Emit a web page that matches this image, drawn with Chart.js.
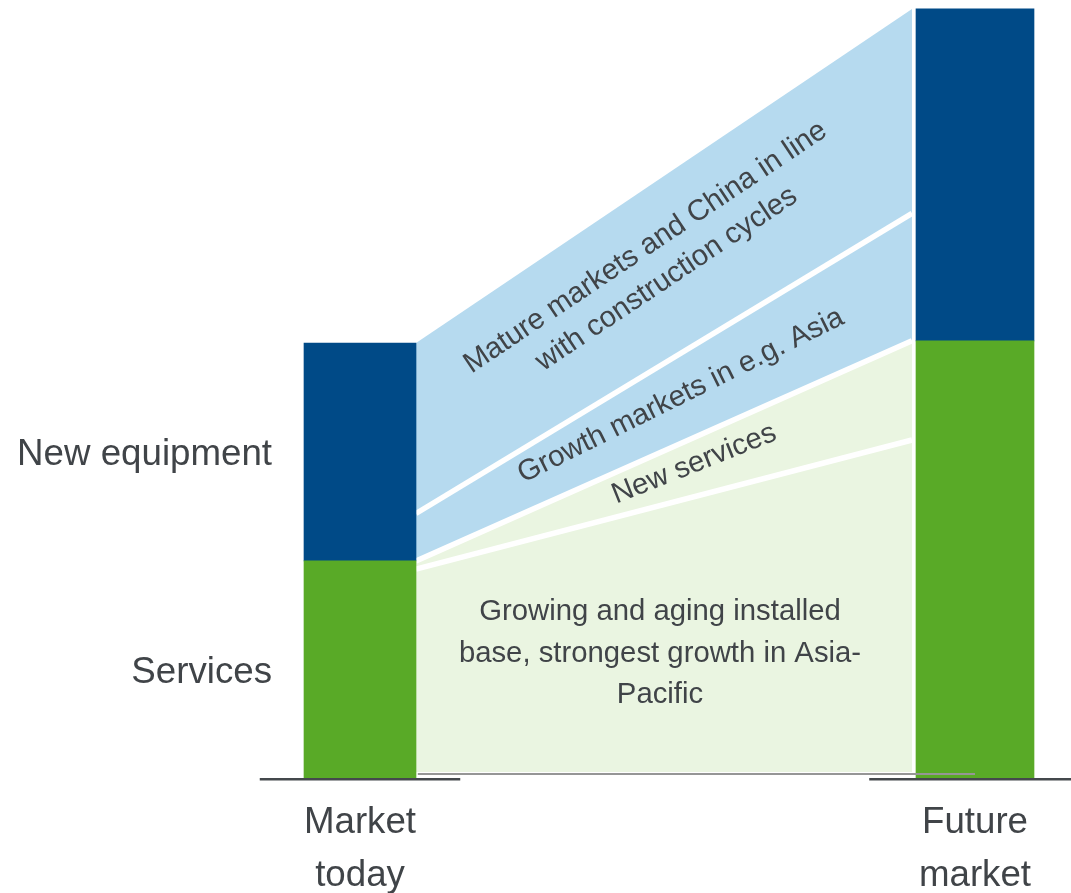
<!DOCTYPE html>
<html>
<head>
<meta charset="utf-8">
<script src="https://cdn.jsdelivr.net/npm/chart.js@4/dist/chart.umd.min.js"></script>
<style>
  html, body { margin: 0; padding: 0; background: #fff; }
  canvas { display: block; }
</style>
</head>
<body>
<canvas id="marketChart" width="1071" height="893"></canvas>
<script>
  // market split, today vs future
  const categories = [['Market', 'today'], ['Future', 'market']];
  const segments = ['Services', 'New equipment'];
  const servicesValues = [49.9, 100.5];
  const newEquipmentValues = [50.1, 76.3];

  // growth flows between the two bars (cumulative tops, bottom to top)
  const flowNames = ['Installed base', 'New services', 'Growth markets', 'Mature markets'];
  const flowTopToday = [48.0, 49.9, 60.8, 100.0];
  const flowTopFuture = [77.7, 100.5, 129.8, 176.8];
  const flowBase = 1.4;

  const flowStartX = 0.091;
  const flowEndX = 0.8976;

  const GREEN = 'rgb(89,170,39)';
  const BLUE = 'rgb(0,74,135)';
  const LIGHT_GREEN = 'rgb(234,245,225)';
  const LIGHT_BLUE = 'rgb(182,218,239)';
  const TEXT = 'rgb(64,68,72)';
  const FONT = '"Liberation Sans", Arial, sans-serif';
  const flowColors = [LIGHT_GREEN, LIGHT_GREEN, LIGHT_BLUE, LIGHT_BLUE];
  const barWidths = [112, 118];
  const stubReach = [[0.163, 0.163], [0.172, 0.172]];
  const TEXT_NUDGE = 3; // canvas 'middle' sits a little high for this font

  const flowNotes = [
    { lines: ['Growing and aging installed', 'base, strongest growth in Asia-', 'Pacific'], x: 0.4878, y: 29.3, angle: 0, lh: 41.5 },
    { lines: ['New services'], x: 0.5415, y: 72.8, angle: -21.7, lh: 0 },
    { lines: ['Growth markets in e.g. Asia'], x: 0.5195, y: 88.5, angle: -26.4, lh: 0 },
    { lines: ['Mature markets and China in line', 'with construction cycles'], x: 0.4787, y: 118.9, angle: -33.8, lh: 38 }
  ];

  const datasets = [];

  // thin grey rule along the bottom of the flows
  datasets.push({
    type: 'line',
    data: [{ x: 0.094, y: 0.92 }, { x: 1.0, y: 0.92 }],
    borderColor: 'rgb(150,150,150)',
    borderWidth: 2,
    pointRadius: 0,
    fill: false
  });

  categories.forEach((cat, i) => {
    datasets.push({
      type: 'bar',
      label: segments[0],
      data: [{ x: i, y: [0, servicesValues[i]] }],
      backgroundColor: GREEN,
      barThickness: barWidths[i],
      grouped: false,
      borderWidth: 0
    });
    datasets.push({
      type: 'bar',
      label: segments[1],
      data: [{ x: i, y: [servicesValues[i], servicesValues[i] + newEquipmentValues[i]] }],
      backgroundColor: BLUE,
      barThickness: barWidths[i],
      grouped: false,
      borderWidth: 0
    });
  });

  datasets.push({
    type: 'line',
    data: [{ x: flowStartX, y: flowBase }, { x: flowEndX, y: flowBase }],
    borderColor: 'rgba(0,0,0,0)',
    borderWidth: 0,
    pointRadius: 0,
    fill: false
  });

  flowNames.forEach((name, k) => {
    const last = k === flowNames.length - 1;
    datasets.push({
      type: 'line',
      label: name,
      data: [{ x: flowStartX, y: flowTopToday[k] }, { x: flowEndX, y: flowTopFuture[k] }],
      backgroundColor: flowColors[k],
      borderColor: last ? 'rgba(0,0,0,0)' : '#fff',
      borderWidth: last ? 0 : 5.5,
      pointRadius: 0,
      tension: 0,
      fill: '-1'
    });
  });

  const labelPlugin = {
    id: 'marketLabels',
    afterDatasetsDraw(chart) {
      const { ctx, scales: { x, y }, chartArea } = chart;
      ctx.save();

      // baseline stubs under each bar
      ctx.strokeStyle = 'rgb(68,72,76)';
      ctx.lineWidth = 2.4;
      categories.forEach((cat, i) => {
        ctx.beginPath();
        ctx.moveTo(x.getPixelForValue(i - stubReach[i][0]), chartArea.bottom + 1.2);
        ctx.lineTo(x.getPixelForValue(i + stubReach[i][1]), chartArea.bottom + 1.2);
        ctx.stroke();
      });

      ctx.fillStyle = TEXT;
      ctx.font = '36.7px ' + FONT;
      ctx.textBaseline = 'middle';

      // segment names left of the first bar
      ctx.textAlign = 'right';
      const lx = x.getPixelForValue(0) - barWidths[0] / 2 - 32;
      ctx.fillText(segments[1], lx, y.getPixelForValue(servicesValues[0] + newEquipmentValues[0] / 2) + TEXT_NUDGE);
      ctx.fillText(segments[0], lx, y.getPixelForValue(servicesValues[0] / 2) + TEXT_NUDGE);

      // category names under the bars
      ctx.textAlign = 'center';
      categories.forEach((lines, i) => {
        lines.forEach((line, j) => {
          ctx.fillText(line, x.getPixelForValue(i), chartArea.bottom + 42 + j * 53 + TEXT_NUDGE);
        });
      });

      // notes inside the flows
      ctx.font = '29.3px ' + FONT;
      flowNotes.forEach(note => {
        ctx.save();
        ctx.translate(x.getPixelForValue(note.x), y.getPixelForValue(note.y));
        ctx.rotate(note.angle * Math.PI / 180);
        const off = (note.lines.length - 1) * note.lh / 2;
        note.lines.forEach((line, j) => ctx.fillText(line, 0, j * note.lh - off + TEXT_NUDGE));
        ctx.restore();
      });

      ctx.restore();
    }
  };

  new Chart(document.getElementById('marketChart'), {
    type: 'line',
    data: { datasets },
    options: {
      responsive: false,
      animation: false,
      events: [],
      layout: { padding: { left: 0, right: 0, top: 0, bottom: 115 } },
      scales: {
        x: { type: 'linear', display: false, offset: false, min: -0.58537, max: 1.15610 },
        y: { type: 'linear', display: false, min: 0, max: 178.85 }
      },
      plugins: {
        legend: { display: false },
        tooltip: { enabled: false }
      }
    },
    plugins: [labelPlugin]
  });
</script>
</body>
</html>
